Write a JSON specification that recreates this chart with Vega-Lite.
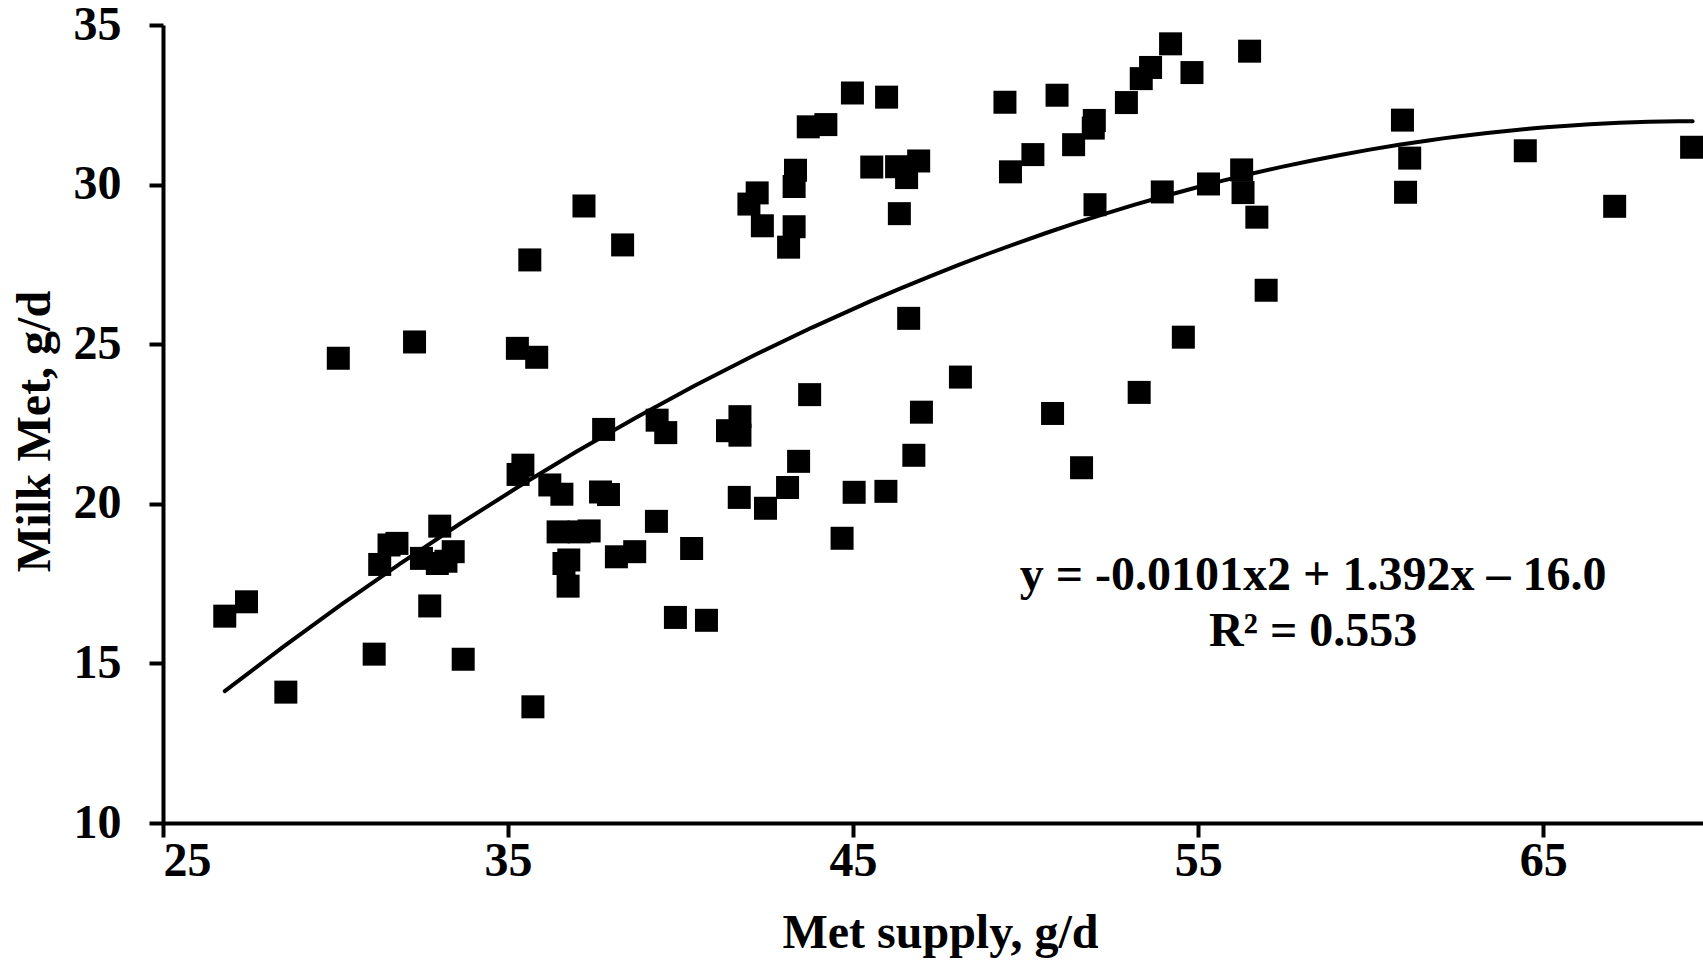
{
  "$schema": "https://vega.github.io/schema/vega-lite/v6.json",
  "width": 1540,
  "height": 798,
  "autosize": {"type": "none"},
  "padding": {"left": 163, "top": 25, "right": 0, "bottom": 141},
  "background": "white",
  "config": {
    "view": {"stroke": null},
    "axis": {
      "domainColor": "black", "domainWidth": 4, "tickColor": "black", "tickWidth": 4, "tickSize": 14,
      "labelFont": "Liberation Serif", "labelFontWeight": "bold", "labelFontSize": 48, "labelColor": "black",
      "titleFont": "Liberation Serif", "titleFontWeight": "bold", "titleFontSize": 48, "titleColor": "black",
      "grid": false
    }
  },
  "datasets": {
    "pts": [
      {"x": 26.79, "y": 16.48}, {"x": 27.42, "y": 16.93}, {"x": 28.56, "y": 14.10}, {"x": 30.08, "y": 24.56},
      {"x": 31.12, "y": 15.29}, {"x": 31.28, "y": 18.10}, {"x": 31.55, "y": 18.71}, {"x": 31.78, "y": 18.76},
      {"x": 32.29, "y": 25.07}, {"x": 32.49, "y": 18.29}, {"x": 32.73, "y": 16.80}, {"x": 32.95, "y": 18.13},
      {"x": 33.02, "y": 19.30}, {"x": 33.20, "y": 18.20}, {"x": 33.41, "y": 18.50}, {"x": 33.70, "y": 15.13},
      {"x": 35.27, "y": 24.87}, {"x": 35.29, "y": 20.92}, {"x": 35.43, "y": 21.21}, {"x": 35.63, "y": 27.64},
      {"x": 35.72, "y": 13.64}, {"x": 35.83, "y": 24.59}, {"x": 36.21, "y": 20.59}, {"x": 36.45, "y": 19.12},
      {"x": 36.56, "y": 20.30}, {"x": 36.62, "y": 18.13}, {"x": 36.74, "y": 17.42}, {"x": 36.76, "y": 18.24},
      {"x": 37.06, "y": 19.12}, {"x": 37.20, "y": 29.33}, {"x": 37.35, "y": 19.15}, {"x": 37.68, "y": 20.37},
      {"x": 37.77, "y": 22.33}, {"x": 37.91, "y": 20.29}, {"x": 38.14, "y": 18.34}, {"x": 38.32, "y": 28.11},
      {"x": 38.67, "y": 18.50}, {"x": 39.30, "y": 19.45}, {"x": 39.32, "y": 22.62}, {"x": 39.57, "y": 22.23},
      {"x": 39.85, "y": 16.44}, {"x": 40.32, "y": 18.60}, {"x": 40.75, "y": 16.35}, {"x": 41.36, "y": 22.29},
      {"x": 41.70, "y": 20.20}, {"x": 41.72, "y": 22.73}, {"x": 41.72, "y": 22.15}, {"x": 41.98, "y": 29.39},
      {"x": 42.22, "y": 29.74}, {"x": 42.37, "y": 28.71}, {"x": 42.46, "y": 19.86}, {"x": 43.10, "y": 20.51},
      {"x": 43.13, "y": 28.04}, {"x": 43.29, "y": 29.94}, {"x": 43.29, "y": 28.68}, {"x": 43.33, "y": 30.45},
      {"x": 43.42, "y": 21.33}, {"x": 43.70, "y": 31.81}, {"x": 43.74, "y": 23.42}, {"x": 44.21, "y": 31.88},
      {"x": 44.68, "y": 18.92}, {"x": 44.98, "y": 32.87}, {"x": 45.03, "y": 20.36}, {"x": 45.54, "y": 30.55},
      {"x": 45.95, "y": 20.39}, {"x": 45.97, "y": 32.74}, {"x": 46.26, "y": 30.56}, {"x": 46.34, "y": 29.09},
      {"x": 46.55, "y": 30.22}, {"x": 46.61, "y": 25.81}, {"x": 46.76, "y": 21.52}, {"x": 46.90, "y": 30.74},
      {"x": 46.98, "y": 22.87}, {"x": 48.11, "y": 23.97}, {"x": 49.40, "y": 32.58}, {"x": 49.56, "y": 30.40},
      {"x": 50.21, "y": 30.94}, {"x": 50.78, "y": 22.83}, {"x": 50.91, "y": 32.80}, {"x": 51.39, "y": 31.25},
      {"x": 51.62, "y": 21.13}, {"x": 51.96, "y": 31.77}, {"x": 51.99, "y": 32.01}, {"x": 52.01, "y": 29.37},
      {"x": 52.92, "y": 32.57}, {"x": 53.29, "y": 23.49}, {"x": 53.35, "y": 33.32}, {"x": 53.62, "y": 33.67},
      {"x": 53.96, "y": 29.77}, {"x": 54.20, "y": 34.41}, {"x": 54.57, "y": 25.22}, {"x": 54.82, "y": 33.51},
      {"x": 55.30, "y": 30.02}, {"x": 56.26, "y": 30.46}, {"x": 56.30, "y": 29.75}, {"x": 56.49, "y": 34.18},
      {"x": 56.70, "y": 28.98}, {"x": 56.97, "y": 26.69}, {"x": 60.92, "y": 32.02}, {"x": 61.01, "y": 29.76},
      {"x": 61.13, "y": 30.83}, {"x": 64.48, "y": 31.06}, {"x": 67.07, "y": 29.32}, {"x": 69.30, "y": 31.17}
    ],
    "labels": [
      {"x": 58.33, "y": 17.29, "label": "y = -0.0101x2 + 1.392x – 16.0"},
      {"x": 58.33, "y": 15.55, "label": "R² = 0.553"}
    ]
  },
  "layer": [
    {
      "data": {"name": "pts"},
      "mark": {"type": "point", "shape": "square", "filled": true, "size": 529, "color": "black", "opacity": 1},
      "encoding": {
        "x": {"field": "x", "type": "quantitative",
              "scale": {"domain": [25, 69.63], "nice": false, "zero": false},
              "axis": {"values": [25, 35, 45, 55, 65], "title": "Met supply, g/d", "labelPadding": 0, "titlePadding": 24, "titleX": 777}},
        "y": {"field": "y", "type": "quantitative",
              "scale": {"domain": [10, 35], "nice": false, "zero": false},
              "axis": {"values": [10, 15, 20, 25, 30, 35], "title": "Milk Met, g/d", "labelPadding": 28, "titleY": 406, "titleX": -104}}
      }
    },
    {
      "data": {"name": "pts"},
      "transform": [{"regression": "y", "on": "x", "method": "poly", "order": 2, "extent": [26.79, 69.33]}],
      "mark": {"type": "line", "color": "black", "strokeWidth": 4, "strokeCap": "round"},
      "encoding": {
        "x": {"field": "x", "type": "quantitative"},
        "y": {"field": "y", "type": "quantitative"}
      }
    },
    {
      "data": {"name": "labels"},
      "mark": {"type": "text", "font": "Liberation Serif", "fontWeight": "bold", "fontSize": 48, "align": "center", "baseline": "alphabetic", "color": "black"},
      "encoding": {
        "x": {"field": "x", "type": "quantitative"},
        "y": {"field": "y", "type": "quantitative"},
        "text": {"field": "label"}
      }
    }
  ]
}
